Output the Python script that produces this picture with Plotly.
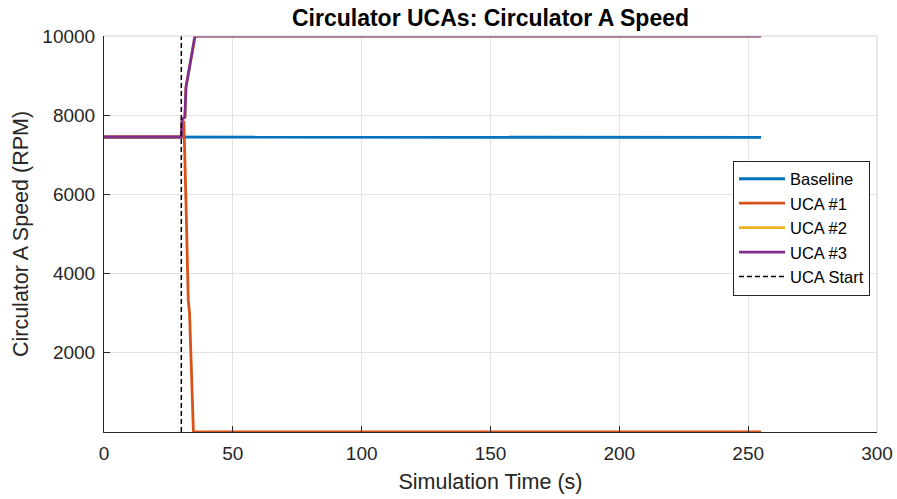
import plotly.graph_objects as go

# Data
t_base = [0, 30, 45, 255]
v_base = [7450, 7450, 7440, 7440]

t_uca1 = [0, 30, 30.3, 31.0, 31.8, 32.7, 33.2, 34.7, 255]
v_uca1 = [7450, 7450, 7800, 7850, 5860, 3330, 3000, 0, 0]

t_uca2 = [0, 30, 30.3, 31.4, 31.8, 35.4, 255]
v_uca2 = [7450, 7450, 7900, 7950, 8700, 10000, 10000]

t_uca3 = [0, 30, 30.3, 31.4, 31.8, 35.3, 255]
v_uca3 = [7450, 7450, 7900, 7950, 8700, 10000, 10000]

t_start = [30, 30]
v_start = [0, 10000]

x_ticks = [0, 50, 100, 150, 200, 250, 300]
y_ticks = [2000, 4000, 6000, 8000, 10000]
y_tick_labels = ["2000", "4000", "6000", "8000", "10000"]

colors = {"Baseline": "#0072BD", "UCA #1": "#D95319", "UCA #2": "#EDB120", "UCA #3": "#7E2F8E"}

fig = go.Figure()
fig.add_trace(go.Scatter(x=t_base, y=v_base, mode="lines", name="Baseline",
                         line=dict(color=colors["Baseline"], width=2.8)))
fig.add_trace(go.Scatter(x=t_uca1, y=v_uca1, mode="lines", name="UCA #1",
                         line=dict(color=colors["UCA #1"], width=2.8)))
fig.add_trace(go.Scatter(x=t_uca2, y=v_uca2, mode="lines", name="UCA #2",
                         line=dict(color=colors["UCA #2"], width=2.8)))
fig.add_trace(go.Scatter(x=t_uca3, y=v_uca3, mode="lines", name="UCA #3",
                         line=dict(color=colors["UCA #3"], width=2.8)))
fig.add_trace(go.Scatter(x=t_start, y=v_start, mode="lines", name="UCA Start",
                         line=dict(color="black", width=1.5, dash="5px,3px")))

font_family = "Liberation Sans, Arial, sans-serif"

W, H = 897, 499
L, R, T, B = 104, 20, 36, 67
plot_w = W - L - R
plot_h = H - T - B

fig.update_layout(
    width=W, height=H,
    margin=dict(l=L, r=R, t=T, b=B),
    paper_bgcolor="white", plot_bgcolor="white",
    font=dict(family=font_family, color="#262626", size=18),
    title=dict(text="<b>Circulator UCAs: Circulator A Speed</b>",
               x=(L + plot_w / 2) / W, xanchor="center",
               y=1 - 18 / H, yanchor="middle",
               font=dict(size=23, color="black")),
    xaxis=dict(range=[0, 300], tickvals=x_ticks, ticks="inside", ticklen=6,
               tickcolor="#262626", showline=True, linecolor="#262626", linewidth=1,
               showgrid=True, gridcolor="#e3e3e3", zeroline=False, automargin=False,
               tickfont=dict(size=19, color="#262626"), ticklabelstandoff=4,
               ticklabeloverflow="allow",
               title=dict(text="Simulation Time (s)", font=dict(size=21.5, color="#262626"), standoff=11)),
    yaxis=dict(range=[0, 10000], tickvals=y_ticks, ticktext=y_tick_labels,
               ticks="inside", ticklen=6, automargin=False,
               tickcolor="#262626", showline=True, linecolor="#262626", linewidth=1,
               showgrid=True, gridcolor="#e3e3e3", zeroline=False,
               tickfont=dict(size=19, color="#262626"), ticklabelstandoff=4,
               title=dict(text="Circulator A Speed (RPM)", font=dict(size=21.5, color="#262626"), standoff=7)),
    legend=dict(x=(733 - L) / plot_w, y=(H - B - 228) / plot_h, xanchor="left", yanchor="middle",
                bgcolor="white", bordercolor="#262626", borderwidth=1, itemwidth=46,
                font=dict(size=16.5, color="black"), tracegroupgap=0),
    showlegend=True,
    shapes=[
        dict(type="line", xref="paper", yref="paper", x0=0, x1=1, y0=1, y1=1,
             line=dict(color="#cfcfcf", width=1)),
        dict(type="line", xref="paper", yref="paper", x0=1, x1=1, y0=0, y1=1,
             line=dict(color="#cfcfcf", width=1)),
    ],
)

page_fix = ("document.body.style.margin='0';"
            "document.body.style.overflow='hidden';"
            "document.documentElement.style.overflow='hidden';")

fig.write_html("out.html", post_script=page_fix, config={"displayModeBar": False})
